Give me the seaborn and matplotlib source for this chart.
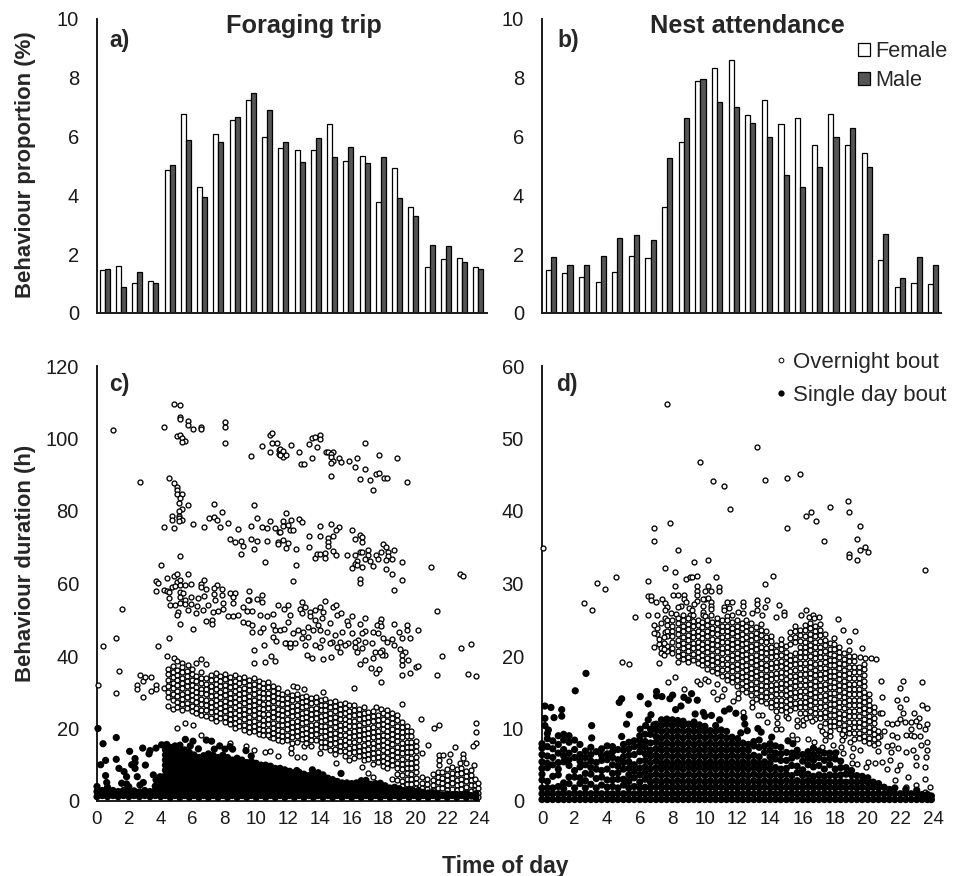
import matplotlib
matplotlib.use('Agg')
import matplotlib.pyplot as plt
from matplotlib.lines import Line2D
from matplotlib.patches import Patch
import numpy as np
import pandas as pd
import seaborn as sns

hours = list(range(24))

trip_female = [1.47, 1.6, 1.03, 1.08, 4.88, 6.78, 4.3, 6.1, 6.58, 7.25, 5.97, 5.6, 5.55, 5.55, 6.43, 5.17, 5.35, 3.78, 4.93, 3.6, 1.55, 1.85, 1.87, 1.55]
trip_male = [1.5, 0.88, 1.4, 1.02, 5.05, 5.88, 3.95, 5.83, 6.65, 7.47, 6.9, 5.83, 5.12, 5.95, 5.3, 5.65, 5.1, 5.3, 3.9, 3.3, 2.3, 2.27, 1.75, 1.5]
nest_female = [1.45, 1.37, 1.23, 1.07, 1.4, 1.93, 1.88, 3.6, 5.82, 7.9, 8.32, 8.6, 6.72, 7.23, 6.43, 6.62, 5.73, 6.77, 5.73, 5.43, 1.8, 0.88, 1.03, 0.98]
nest_male = [1.9, 1.63, 1.63, 1.95, 2.55, 2.65, 2.5, 5.28, 6.63, 7.95, 7.18, 7.0, 6.47, 6.0, 4.68, 4.27, 4.95, 5.97, 6.3, 4.98, 2.7, 1.2, 1.9, 1.63]

# overnight trips, single points read one by one (hour, duration)
trip_night_points = [
    (1.03,102.3),(4.86,109.6),(5.21,109.2),(5.21,105.9),(5.21,105.3),(5.72,104.9),(5.72,103.8),(6.03,102.7),(6.53,103.2),(6.53,102.6),(4.21,103.1),
    (5.03,100.7),(5.21,101),(5.36,100.2),(5.55,99.4),(5.34,98.9),(8.02,104.6),(8.02,103.2),(8.02,98.7),(9.69,95.2),(10.34,97.9),(10.85,100.9),(11.01,101.6),
    (11.01,98.8),(11.33,98.7),(10.85,96.4),(11.43,96.8),(11.43,95.7),(12.19,98.2),(11.5,97.1),(11.7,96.6),(11.7,95),(11.5,95.4),(11.85,95.4),(12.69,96.2),
    (12.83,93.1),(13,92.9),(13.34,98.6),(13.53,100.1),(13.69,100.3),(14.01,101),(14.01,99.8),(13.84,97.6),(13.53,94.5),(14.36,96.4),(14.53,96.2),(14.85,96.3),
    (14.68,95.7),(14.68,95),(14.85,93.8),(14.68,93.3),(15.18,94.7),(15.35,93.6),(14.68,89.7),(15.83,93.7),(16.35,94.7),(16.18,92.1),(16.5,88.9),(16.83,98.8),
    (16.83,91.6),(17.17,88.6),(17.34,85.8),(17.5,90.2),(17.69,90.5),(17.69,95.4),(18,89),(18.2,89),(18.82,94.7),(19.49,88),
    (4.52,89.2),(2.7,88),(4.86,87.8),(5.03,86.6),(5.03,85.8),(5.03,84.7),(5.36,84.7),(5.21,83.7),(5.17,82.1),(5.7,81.7),(5.36,80.6),(5.17,80),(5.17,78.7),
    (4.71,78.5),(4.71,77.4),(5.17,78),(5.36,77.4),(5.17,77.2),(4.21,75.7),(4.86,75.3),(6.03,76.5),(6.7,75.7),(7.04,78),(7.37,78.4),(7.54,77.4),(7.71,75.7),
    (7.87,79.6),(7.37,82),(8.21,76.6),(8.86,75),(8.38,72.2),(8.69,71.4),(9.05,71.8),(9.19,70.3),(9.02,68.2),(9.69,72.2),(10.03,71.8),(9.86,69.4),(10.68,71.7),
    (11.35,71.5),(11.35,70.9),(10.53,65.8),(11.43,74.1),(9.69,76),(10.03,78),(10.34,75.7),(10.68,75.2),(10.85,77.2),(11.18,75.2),(9.86,81.7),
    (11.85,79.4),(11.7,77.2),(12.19,77.4),(12.69,77.7),(12.86,76.9),(11.7,75.9),(12.02,76.2),(11.5,74.3),(12.12,74.8),(12.33,74.8),(11.7,72),(12.02,71.1),
    (11.85,69.7),(12.52,69.4),(12.52,65),(12.33,60.7),(13.34,73.2),(14.01,76),(14.01,73.1),(14.68,76.5),(15.18,75.7),(15.01,74.7),(14.84,73.1),(14.51,72.6),
    (14.51,71.5),(14.51,70.4),(13.34,70.2),(13.67,67.1),(13.84,68.1),(14.01,68.1),(14.34,68.5),(14.34,67),(14.84,68.9),(15.01,68),(15.68,67.9),(16.02,74.7),
    (16.19,72.3),(16.5,73.5),(16.67,72.8),(16.67,71.4),(16.19,67.8),(16.5,68.6),(16.67,68.6),(17,69.2),(17,67.9),(16.83,66.7),(17.17,66.3),(16.35,66.1),
    (16.19,65.3),(16.35,65.1),(16.02,64.2),(16.67,64.5),(17.34,64.8),(17.51,67.9),(17.84,68.6),(17.67,66.7),(17.98,71),(18.15,70.2),(18.31,68.7),(18.68,69.2),
    (18.31,67.7),(18.15,66.5),(18.51,66.7),(19.16,66),(18.15,64),(18.51,62.5),(19.16,61),(18.68,58.3),(16.5,61.2),(16.5,60.1),(21,64.5),(22.82,62.5),(23,62.1),
    (4.04,65),(5.19,67.7),(3.71,60.7),(3.86,60.1),(4.38,61.6),(4.86,62.2),(5.05,62.5),(5.72,62.7),(3.71,58),(4.21,58.2),(4.38,58),(4.54,57.7),(4.71,59.1),
    (5.05,60.5),(5.21,61.1),(5.21,59.6),(4.9,59.3),(5.55,59.6),(5.88,59.8),(5.21,57.7),(5.38,57.3),(4.54,55.9),(5.21,56.4),(5.88,56.4),(6.7,61),(6.53,60),
    (6.55,58.9),(6.87,58.6),(7.54,59.6),(7.37,58.7),(7.87,58.6),(8.38,57.5),(8.69,57.3),(9.53,58),(6.7,56.6),(7.37,57),(7.87,56.8),(8.52,56.2),(10.34,56.8),
    (10.03,55.6),(9.55,55.4),(6.37,55.9),(5.53,55.4),
    (1.55,53),(0.4,42.7),(1.21,45),(3.85,42.7),(4.52,44.9),(6.03,47.4),(5.19,48.7),(6.87,49.7),(7.2,49.9),(7.2,48.7),
    (4.59,54.1),(4.9,54.1),(5.21,54.5),(5.53,54.3),(5.88,54.3),(6.26,53.8),(6.68,52.7),(6.99,54.1),(7.31,52.2),(7.62,52.5),(7.94,53.1),(8.25,50.9),(8.56,50.9),
    (8.88,51.3),(9.19,53.6),(9.4,52.5),(9.72,52.5),(10.24,51.3),(10.66,50.9),(11.03,51.6),(11.39,54.1),(11.75,53.1),(12.02,54.1),(5.11,52.2),(5,51.3),(5.74,52.7),
    (6.2,51.8),(7.94,54.5),(8.56,54.7),(7.41,55.4),(9.51,55.4),(10.34,55),(9.19,49.5),(9.51,49),(9.72,48.6),(9.72,46.5),(10.24,46.5),(10.41,47.6),(11.08,48.6),
    (11.18,47.2),(11.5,47.2),(11.75,47.4),(11.08,45.3),(11.24,44.2),(11.87,43.5),(12.12,42.6),(10.51,42.9),(9.86,41.7),(10.91,40),(10.55,38.4),(11.18,38.6),(9.86,38),
    (21.33,52.5),(22.84,42.3),(23.49,43.2),(21.65,40.1),(21.33,34.8),(23.33,35),(23.81,34.5),(17.84,32.9),
    (12.86,55),(12.75,53.1),(13.07,53.4),(12.86,52),(13.38,52.2),(13.69,52.7),(14.01,53.6),(14.22,52.2),(14.32,55.2),(14.85,53.4),(14.99,54.1),(15.05,51.3),
    (15.33,51.8),(16,51.1),(16.83,50.4),(15.68,49.7),(15.79,48.6),(16.52,48.8),(17.84,50.1),(17.78,49.2),(17.57,48.6),(17.84,48.3),(17.36,46.7),(16.83,47),
    (16.67,46.3),(18.68,48.8),(18.99,46.7),(19.49,48.6),(19.49,47.2),(19.18,45.1),(19.66,44.9),(20.17,47.2),(17.67,46.3),(17.99,45.1),(18.2,44),(18.51,44.6),
    (18.68,43),(19.03,41.9),(19.35,41.2),(19.18,40.3),(19.14,38.9),(19.14,37.5),(19.51,38.9),(20.02,37.1),(20.18,37.3),(19.66,35.4),(19.18,34.8),(17.19,36.6),
    (17.5,35.4),(17.69,36.3),(13.69,49.9),(14.11,50.4),(13.38,50.9),(12.12,51.3),(12.02,49.5),(13.9,48.6),(13.28,48.1),(12.65,47.2),(12.33,46.3),(12.96,46.7),
    (13.59,47.2),(14.43,46.7),(14.95,45.8),(15.37,46.7),(16,46.3),(16.42,44.4),(16.83,44),(17.25,43.5),(17.46,41.2),(16.62,42.1),(16.21,42.6),(15.79,43.5),
    (15.26,44),(14.74,44),(14.11,44.4),(13.69,43),(13.28,45.3),(12.86,44.9),(12.44,43.5),(11.81,43.5),(12.12,43.5),(13.07,43),(14.01,42.6),(14.64,43.5),
    (15.05,42.6),(15.58,43),(15.26,41.2),(16.31,41.2),(16.83,38.9),(17.36,39.4),(16.52,37.9),(17.88,41.7),(18.09,40.3),(17.88,40.3),(13.17,40.3),(13.53,39.4),
    (14.18,39.2),(14.68,39.6),(14.64,49.2),(14.01,47.2),(16.21,44),(17.78,41.2),
    (2.53,32),(2.53,30.8),(2.7,34.8),(2.87,33),(3.04,34.3),(3.37,34.3),(2.87,28.6),(3.37,30.4),(3.71,32),(3.71,30.8),(4.21,31.1),(4.54,32.5),
    (0.06,32.1),(1.38,35.9),(1.21,29.9),(5.05,20.1),(5.55,21.4),(6.03,21),(6.55,18.1),(8.35,16.1),(9.36,15.2),(9.86,14.1),(10.53,13.6),(10.87,13.8),(11.37,12.5),
    (10.24,18.9),(10.53,18.7),(10.87,17.7),(12.19,14.5),(12.19,13.3),(12.55,12.2),(13.02,12.2),(13.02,15.3),(14.01,13.3),(14.99,10.4),(15.83,11.3),(16.67,9.5),
    (17.04,7.6),(17.36,6.7),(20.81,15.4),(20.33,22.5),(21.17,20.1),(21.48,21),(19.16,26.8),(16.16,31.1),(14.18,30.2),(12.33,31.7),(12.55,31.4),(13.01,30.8),
    (17.5,26),(17.84,25.5),(23.81,21.6),(23.81,18.9),(23.81,15.9),(23.65,15.2),(22.49,15),(21.5,12.6),(21.75,12.6),(22.17,12.9),(21.48,11.3),(21.48,9.9),
    (22.97,13),(22.97,11.8),(22.8,10.6),(23.18,10.6),(23.66,9.9),(22.13,11),(4.38,40),(4.86,39.4),(5.05,38.6),(5.36,38),(5.7,37.6),(6.2,38),(6.55,39.2),(6.87,37.9),
]

# overnight trips, crowded band read column by column (hour, durations)
trip_night_columns = [
    (4.45,[36.4,34.9,33.4,31.8,30,28.7,26.3]),(4.75,[37.2,35.5,34.1,32.5,31.2,29.6,27.9,25.4]),(5.05,[36.1,34.7,33.3,31.9,30.4,28.9,27.3,25.9]),
    (5.35,[37,35.6,34,32.6,31.1,29.6,28.2,26.7,25.2]),(5.65,[35.9,34.4,33,31.6,30.1,28.6,27.1,25.6]),(5.95,[36.5,35,33.5,32.1,30.6,29.2,27.8,26.3,24.8]),
    (6.25,[34.4,33,31.5,30,28.6,27.2,25.7,24.2]),(6.55,[35.6,34,32.5,31,29.7,28.2,26.8,25.2,23.8]),(6.85,[33.8,32.4,30.9,29.5,28,26.5,25,23.5]),
    (7.15,[34.8,33.3,31.8,30.3,28.9,27.4,26,24.5,23]),(7.45,[35.2,33.7,32.2,30.8,29.3,27.9,26.4,24.9,23.4,22]),(7.75,[34.6,33,31.6,30.1,28.6,27.1,25.7,24.2,22.8]),
    (8.05,[35.1,33.6,32.1,30.6,29.2,27.7,26.2,24.8,23.3,21.9]),(8.35,[34.3,32.9,31.4,29.9,28.5,27,25.5,24,22.6,21.2]),(8.65,[34.7,33.2,31.8,30.3,28.8,27.4,25.9,24.4,23,21.5,20.1]),
    (8.95,[33.9,32.5,31,29.5,28.1,26.6,25.2,23.7,22.2,20.8]),(9.25,[34.2,32.8,31.3,29.9,28.4,26.9,25.5,24,22.5,21.1,19.6]),(9.55,[33.5,32,30.6,29.1,27.7,26.2,24.7,23.3,21.8,20.4,19]),
    (9.85,[33.9,32.4,31,29.5,28,26.6,25.1,23.6,22.2,20.7,19.3]),(10.15,[33,31.6,30.1,28.6,27.2,25.7,24.3,22.8,21.3,19.9,18.4]),(10.45,[32.6,31.2,29.7,28.3,26.8,25.3,23.9,22.4,21,19.5,18.1]),
    (10.75,[32.9,31.4,29.9,28.5,27,25.6,24.1,22.6,21.2,19.7,18.3]),(11.05,[31.8,30.4,28.9,27.5,26,24.5,23.1,21.6,20.2,18.7,17.3]),(11.35,[31.2,29.8,28.3,26.9,25.4,24,22.5,21,19.6,18.1,16.7]),
    (11.65,[29.6,28.2,26.7,25.2,23.8,22.3,20.9,19.4,18,16.5]),(11.95,[30,28.5,27.1,25.6,24.2,22.7,21.2,19.8,18.3,16.9]),(12.25,[29.2,27.8,26.3,24.9,23.4,21.9,20.5,19,17.6,16.1]),
    (12.55,[29.5,28.1,26.6,25.1,23.7,22.2,20.8,19.3,17.8,16.4]),(12.85,[28.7,27.3,25.8,24.3,22.9,21.4,20,18.5,17.1]),(13.15,[29,27.5,26.1,24.6,23.2,21.7,20.2,18.8,17.3,15.9]),
    (13.45,[28.3,26.9,25.4,23.9,22.5,21,19.6,18.1,16.7,15.2]),(13.75,[28.6,27.2,25.7,24.2,22.8,21.3,19.9,18.4,16.9]),(14.05,[27.9,26.5,25,23.5,22.1,20.6,19.2,17.7,16.2,14.8]),
    (14.35,[28.1,26.6,25.2,23.7,22.3,20.8,19.3,17.9,16.4,15]),(14.65,[27.3,25.9,24.4,23,21.5,20,18.6,17.1,15.7,14.2]),(14.95,[27.6,26.1,24.7,23.2,21.7,20.3,18.8,17.4,15.9,14.4,13]),
    (15.25,[26.8,25.4,23.9,22.5,21,19.5,18.1,16.6,15.2,13.7]),(15.55,[27.1,25.6,24.2,22.7,21.2,19.8,18.3,16.9,15.4,13.9,12.5]),(15.85,[26.4,24.9,23.5,22,20.6,19.1,17.6,16.2,14.7,13.3]),
    (16.15,[26.6,25.2,23.7,22.2,20.8,19.3,17.9,16.4,14.9,13.5,12]),(16.45,[25.4,24,22.5,21.1,19.6,18.1,16.7,15.2,13.8,12.3]),(16.75,[25.8,24.3,22.8,21.4,19.9,18.5,17,15.5,14.1,12.6,11.2]),
    (17.05,[24.6,23.2,21.7,20.2,18.8,17.3,15.9,14.4,12.9,11.5]),(17.35,[24.9,23.4,22,20.5,19.1,17.6,16.1,14.7,13.2,11.8,10.3]),(17.65,[23.8,22.4,20.9,19.4,18,16.5,15.1,13.6,12.1,10.7]),
    (17.95,[24.2,22.7,21.3,19.8,18.3,16.9,15.4,14,12.5,11,9.6]),(18.25,[25.1,23.6,22.1,20.7,19.2,17.8,16.3,14.8,13.4,11.9,10.5,9]),(18.55,[24.4,22.9,21.5,20,18.5,17.1,15.6,14.2,12.7,11.2,9.8,6.2]),
    (18.85,[23.8,22.3,20.8,19.4,17.9,16.5,15,13.5,12.1,10.6,9.2,7.5,5.9]),(19.15,[21.9,20.5,19,17.6,16.1,14.6,13.2,11.7,10.3,8.8,7.3,5.6,4.2]),(19.45,[20.8,19.4,17.9,16.4,15,13.5,12.1,10.6,9.1,7.7,6.2,4.8]),
    (19.75,[19.2,17.8,16.3,14.8,13.4,11.9,10.5,9,7.5,6.1,4.6,3.2]),(20.05,[16.6,15.2,13.7,12.2,10.8,9.3,7.9,6.4,4.9,3.5]),(20.4,[13.2,6.5,5,3.6,2.4]),(20.75,[6.2,4.8,3.4,2.3]),
    (21.1,[7.4,5.9,4.5,3,1.8]),(21.4,[8.1,6.6,5.2,3.7,2.3]),(21.7,[7.9,6.4,4.9,3.5,2]),(22,[8.7,7.2,5.8,4.3,2.9,1.5]),(22.3,[9.3,7.8,6.3,4.9,3.4,2]),
    (22.6,[8.8,7.4,5.9,4.4,3,1.5]),(22.9,[9,7.6,6.1,4.7,3.2,1.8]),(23.2,[8.4,6.9,5.4,4,2.5,1.2]),(23.5,[8.6,7.2,5.7,4.3,2.8,1.4]),(23.75,[6,4.5,3.1,1.7]),(23.95,[5,3.6,2.2,1.2]),
]

# single day trips, points standing apart (hour, duration)
trip_day_points = [
    (0.06,20),(0.38,15.8),(1.21,17.5),(2.05,13.7),(2.87,14.6),(3.33,13.9),(3.27,13),(3.71,14.6),(4.06,15.5),(4.38,15.6),(0.23,10),(0.54,11.2),(1.21,11.5),(2.39,11.7),
    (2.39,10.6),(2.18,10),(2.39,9),(3.04,9.9),(1.38,9),(1.7,8.1),(1.86,6.7),(2.53,6.7),(0.54,7),(0.61,5.1),(1.55,4.9),(1.86,4.7),(2.91,5.1),(2.7,4.4),(3.54,7.2),
    (3.71,5.8),(3.96,6.7),(5.55,17),(6.03,16.5),(5.21,15.4),(5.86,15.2),(6.37,14.4),(6.87,16.8),(7.2,16.5),(7.37,14.3),(7.71,15.2),(8.04,14.3),(8.35,15),(8.52,14.3),
    (9.36,13.9),(9.69,12.4),(13.53,8.6),(15.33,7.6),(12.55,8.4),
]

# single day trips, solid mass read column by column (hour, durations)
trip_day_columns = [
    (0,[1.2,2.6,4]),(0.33,[1.5,2.9]),(0.66,[1.2,2.6,3.8]),(1,[1.5,2.9]),(1.33,[1.2,2.6]),(1.66,[1.5,2.9]),(2,[1.2,2.6,3.9]),(2.33,[1.5,2.8]),(2.66,[1.2,2.5]),
    (3,[1.5,2.9]),(3.33,[1.2,2.6]),(3.66,[1.5,2.9,4.1]),(4,[1.2,2.6,4,5.2]),
    (4.3,[1.5,2.9,4.3,5.7,7.1,8.5,9.9,11.3,12.7,14.1]),(4.6,[1,2.2,3.6,5,6.4,7.8,9.2,10.6,12,13.4,14.8]),(4.9,[1.5,2.9,4.3,5.7,7.1,8.5,9.9,11.3,12.7,14.1,15.2]),
    (5.2,[1,2.2,3.6,5,6.4,7.8,9.2,10.6,12,13.4,14.6]),(5.5,[1.5,2.9,4.3,5.7,7.1,8.5,9.9,11.3,12.7,14.1]),(5.8,[1,2.2,3.6,5,6.4,7.8,9.2,10.6,12,13.4]),
    (6.1,[1.5,2.9,4.3,5.7,7.1,8.5,9.9,11.3,12.7]),(6.4,[1,2.2,3.6,5,6.4,7.8,9.2,10.6,12]),(6.7,[1.5,2.9,4.3,5.7,7.1,8.5,9.9,11.3,12.5]),(7,[1,2.2,3.6,5,6.4,7.8,9.2,10.6,12,13]),
    (7.3,[1.5,2.9,4.3,5.7,7.1,8.5,9.9,11.3,12.6]),(7.6,[1,2.2,3.6,5,6.4,7.8,9.2,10.6,12]),(7.9,[1.5,2.9,4.3,5.7,7.1,8.5,9.9,11.3,12.6]),(8.2,[1,2.2,3.6,5,6.4,7.8,9.2,10.6,12]),
    (8.5,[1.5,2.9,4.3,5.7,7.1,8.5,9.9,11.3]),(8.8,[1,2.2,3.6,5,6.4,7.8,9.2,10.6,11.8]),(9.1,[1.5,2.9,4.3,5.7,7.1,8.5,9.9,11.3]),(9.4,[1,2.2,3.6,5,6.4,7.8,9.2,10.6]),
    (9.7,[1.5,2.9,4.3,5.7,7.1,8.5,9.9,10.9]),(10,[1,2.2,3.6,5,6.4,7.8,9.2,10.4]),(10.3,[1.5,2.9,4.3,5.7,7.1,8.5,9.9]),(10.6,[1,2.2,3.6,5,6.4,7.8,9.2,9.9]),
    (10.9,[1.5,2.9,4.3,5.7,7.1,8.5,9.6]),(11.2,[1,2.2,3.6,5,6.4,7.8,9]),(11.5,[1.5,2.9,4.3,5.7,7.1,8.5,9]),(11.8,[1,2.2,3.6,5,6.4,7.8,8.6]),(12.1,[1.5,2.9,4.3,5.7,7.1,8.2]),
    (12.4,[1,2.2,3.6,5,6.4,7.8]),(12.7,[1.5,2.9,4.3,5.7,7.1,7.9]),(13,[1,2.2,3.6,5,6.4,7.4]),(13.3,[1.5,2.9,4.3,5.7,7]),(13.6,[1,2.2,3.6,5,6.4,7.4]),(13.9,[1.5,2.9,4.3,5.7,7.1,7.8]),
    (14.2,[1,2.2,3.6,5,6.4,7.2]),(14.5,[1.5,2.9,4.3,5.7,6.3]),(14.8,[1,2.2,3.6,5,5.9]),(15.1,[1.5,2.9,4.3,5.4]),(15.4,[1,2.2,3.6,5]),(15.7,[1.5,2.9,4.3,5]),(16,[1,2.2,3.6,4.8]),
    (16.3,[1.5,2.9,4.1,5]),(16.6,[1,2.2,3.6,5,5.6]),(16.9,[1.5,2.9,4.3,5.7]),(17.2,[1,2.2,3.6,4.6]),(17.5,[1.5,2.9,3.8,4.8]),(17.8,[1,2.2,3.6,4.9]),(18.1,[1.5,2.9,4.2]),
    (18.4,[1,2.2,3.6]),(18.7,[1.5,2.9,3.8]),(19,[1,2.2,3.4]),(19.3,[1.5,2.9]),(19.6,[1,2.2,3.1]),(19.9,[1.5,2.7]),(20.2,[1,2.2,2.9]),(20.5,[1.5,2.4]),(20.8,[1,2.2]),
    (21.1,[1.5,2.3]),(21.4,[1,2]),(21.7,[1.5]),(22,[1,1.9]),(22.3,[1.5]),(22.6,[1,1.8]),(22.9,[1.5]),(23.2,[1,1.9]),(23.5,[1.5]),(23.8,[1,2]),
]

nest_night_points = [
    (7.69,54.8),(9.69,46.8),(10.51,44.1),(11.19,43.4),(11.51,40.3),(7.87,38.3),(6.85,37.6),(6.87,35.8),(0.04,34.9),(8.34,34.6),(10.18,33.2),(9.35,32.9),(7.53,32.2),
    (8.18,31.6),(4.54,30.9),(3.37,30.1),(3.89,29.2),(6.52,30.3),(8.85,30.6),(9.08,30.9),(9.22,30.9),(9.53,31.1),(10.7,30.9),(8.18,29.6),(9.53,29.6),(10.18,29.7),
    (10.86,29.5),(10.86,28.9),(2.56,27.3),(3.05,26.4),(5.71,25.4),(6.52,25.7),(7.03,25.7),(6.52,28.3),(6.69,28.3),(6.69,27.7),(7.01,27.4),(7.36,27.9),(7.53,27.3),
    (7.69,26.8),(7.53,26.4),(8.02,28.4),(8.36,28.4),(8.69,28.4),(8.69,27.9),(8.85,27.4),(8.53,26.9),(8.36,26.7),(9.53,28.9),(9.53,28.4),(10,28.9),(10.35,28.9),
    (10,27.9),(10.18,28),(9.88,27.9),(9.53,27.6),(9.35,27.2),(10.35,27.5),(10.35,26.9),(10.35,26.5),(9.86,26.9),(9.02,26.6),(9.22,26.3),(9.86,26.1),(11.35,27.4),
    (11.68,27.4),(11.19,26.8),(11.49,26.6),(11.19,26.3),(12.02,26.1),(11.64,25.6),(11.33,25.5),(7.89,25.9),(8.2,25.8),(8.67,25.6),(9.08,25.6),(9.28,25.7),(9.86,25.7),
    (10,25.5),(10.35,25.6),(7.53,25.3),(13.19,48.8),(13.68,44.3),(15.01,44.5),(15.83,45.1),(18.81,41.4),(17.65,40.6),(16.5,39.9),(16.18,39.3),(16.83,38.6),(18.84,39.8),
    (19.51,37.9),(15.01,37.6),(17.34,35.9),(19.33,36.1),(19.82,35.1),(19.49,34.6),(20,34.3),(18.84,34.1),(18.84,33.6),(19.35,33.2),(23.5,31.8),(14.17,31.1),(13.68,29.9),
    (12.35,27.4),(12.35,26.9),(13.21,27.7),(13.21,27.2),(13.84,27.7),(13.68,26.8),(14.52,27),(12.86,26),(12.35,25.9),(13.21,26.3),(13.52,25.6),(14.35,25.4),(14.85,26.1),
    (14.85,25.6),(15.87,25.7),(16.18,26.3),(16.37,25.4),(16.65,25.6),(17,25.4),(18.16,25.1),(16.69,25.3),
    (22.17,16.6),(23.33,16.4),(22,15.6),(20.82,16.6),(20.84,14.3),(21.82,13.9),(22.33,14.1),(23.33,13.2),(23.66,12.8),(21.96,12.9),(22.17,12.1),(22.82,12.1),(23.15,11.4),
    (22,11.3),(22.31,10.9),(22.68,10.9),(22.98,11.1),(23.66,10.6),(23.15,10.3),(23.5,10),(22.68,10),(22.68,9.1),(22.37,9.1),(22.82,8.9),(23.19,9),(23.66,8.2),(20.74,12.1),
    (20.84,12.2),(20.53,19.6),(20.17,19.7),(19.82,19.7),(19.51,19.9),(19.67,21.1),(19.2,23.4),(18.84,22.1),(18.49,23.6),(21.19,10.7),(21.51,10.6),(21.8,10.8),(20.98,9.6),
    (21.49,9.1),(21.8,8.8),(20.74,8.9),(21.15,7.6),(21.51,7.7),(21.86,7.3),(21.45,6.8),(22.37,6.7),(22.78,7),(23.29,7.7),(23.66,7),(23.56,6.1),(22.98,6.1),(20.84,5.4),
    (21.35,5.7),(21.96,5),(21.76,4.3),(21.15,4.4),(22.98,5),(23.5,4.7),(22.47,3.3),(21.66,2.9),(23.5,3),(22.37,2),(22.98,2.2),(23.81,2),(23.5,1.3),(20.43,5.2),(20.02,5.4),(19.88,4.7),
    (13.48,11.9),(13.27,11.9),(15,11.7),(12.35,12.3),(13.84,10.9),(14.35,9.9),(14.67,9.9),(15.32,9.1),(15.66,8.6),(16.34,8.6),(16.69,8.1),(17.16,7.5),(17.87,7.7),(18.38,7.5),
    (18.89,8.2),(19.1,7.3),(19.51,7.1),(19,6.2),(19,5.2),(19.31,5.1),(18.49,6.6),(18.04,6.7),(15.66,11.2),(16.03,11.2),(16.18,11.4),(15.66,10.3),(16.03,10.5),(17.05,10.3),(17.16,9.6),
    (17.36,9.3),(17.36,8.4),(4.89,19.2),(5.36,18.9),(7.2,19.1),(7.71,16.4),(8.18,17.1),(9.53,16.6),(9.69,16.1),(10,16.8),(10.2,16.5),(10.72,16.2),(8.69,15.4),(10.51,15),(10.72,14.1),
    (11.02,14.5),(11.19,15.4),(11.7,13.8),(6.87,21.2),(7.2,21.7),(7.03,23.8),(7.03,23.1),(7.2,22.4),(7.53,23.3),
]

nest_night_columns = [
    (7.7,[25,24.3,23.5,22.8,21.4,20.7]),(8,[25,24.2,23.4,22.7,21.9,21.1,20.4]),(8.35,[25.2,24.5,23.7,23,22.2,21.5,20.7,20,19.2]),(8.65,[24.9,24.1,23.4,22.6,21.8,21.1,20.3,19.6]),
    (8.95,[25.2,24.4,23.7,22.9,22.2,21.4,20.7,19.9,19.2]),(9.25,[24.8,24.1,23.3,22.6,21.8,21.1,20.3,19.5]),(9.55,[25,24.3,23.5,22.8,22,21.3,20.5,19.8,19]),(9.85,[24.7,24,23.2,22.5,21.7,21,20.2,19.4,18.7]),
    (10.15,[25,24.3,23.5,22.7,22,21.2,20.5,19.7,19,18.2]),(10.45,[24.7,23.9,23.2,22.4,21.7,20.9,20.2,19.4,18.7,17.9]),(10.75,[25.2,24.5,23.7,23,22.2,21.5,20.7,19.9,19.2,18.4,17.7]),
    (11.05,[24.9,24.1,23.4,22.6,21.9,21.1,20.4,19.6,18.9,18.1,17.3]),(11.35,[25,24.2,23.5,22.7,22,21.2,20.5,19.7,18.9,18.2,17.4,16.7]),(11.65,[24.7,23.9,23.2,22.4,21.7,20.9,20.1,19.4,18.6,17.9,17.1,16.4]),
    (11.95,[25,24.2,23.5,22.7,22,21.2,20.4,19.7,18.9,18.2,17.4,16.7,15.9]),(12.25,[24.6,23.9,23.1,22.4,21.6,20.8,20.1,19.3,18.6,17.8,17.1,16.3,15.5]),(12.55,[24.9,24.1,23.4,22.6,21.8,21.1,20.3,19.6,18.8,18.1,17.3,16.5,15.8,15]),
    (12.85,[24.5,23.7,22.9,22.2,21.4,20.7,19.9,19.2,18.4,17.6,16.9,16.1,15.4,14.6]),(13.15,[24,23.2,22.5,21.7,21,20.2,19.4,18.7,17.9,17.2,16.4,15.6,14.9,14.1]),(13.45,[24.4,23.6,22.9,22.1,21.3,20.6,19.8,19.1,18.3,17.5,16.8,16,15.3,14.5,13.8]),
    (13.75,[23.4,22.6,21.9,21.1,20.4,19.6,18.8,18.1,17.3,16.6,15.8,15,14.3,13.5]),(14.05,[22.8,22.1,21.3,20.6,19.8,19,18.3,17.5,16.8,16,15.3,14.5,13.7,13]),(14.35,[21.5,20.7,20,19.2,18.5,17.7,16.9,16.2,15.4,14.7,13.9,13.2,12.4]),
    (14.65,[22.4,21.6,20.9,20.1,19.3,18.6,17.8,17.1,16.3,15.6,14.8,14,13.3,12.5]),(14.95,[21.4,20.6,19.9,19.1,18.4,17.6,16.8,16.1,15.3,14.6,13.8,13,12.3]),(15.25,[23.3,22.5,21.7,20.2,19.4,18.7,17.9,17.2,16.4,15.6,14.9,14.1,13.4,12.6]),
    (15.55,[24.2,23.4,22.6,21.9,20.4,19.6,18.9,18.1,17.3,16.6,15.8,15.1,14.3,13.5,12.8]),(15.85,[23.6,22.9,22.1,21.3,20.6,19.8,19,18.3,17.5,16.8,16,15.2,14.5,13.7,13,12.2]),(16.15,[24.3,23.6,22.8,22,21.3,20.5,19.8,19,18.2,17.5,16.7,16,15.2,14.4,13.7,12.9,12.2]),
    (16.45,[24.6,23.8,23,22.3,21.5,20.8,20,19.2,18.5,17.7,17,16.2,15.4,14.7,13.9,13.2,12.4,11.6]),(16.75,[24.2,23.5,22.7,21.9,21.2,20.4,19.7,18.9,18.1,17.4,16.6,15.9,15.1,14.4,13.6,12.8,12.1,11.3]),
    (17.05,[24.4,23.6,22.9,22.1,21.3,20.6,19.8,19.1,18.3,17.5,16.8,16,15.3,14.5,13.7,13,12.2,11.5]),(17.35,[23,22.2,21.5,20.7,19.9,19.2,18.4,17.7,16.9,16.1,15.4,14.6,13.9,13.1,12.3,11.6,10.8]),
    (17.65,[21.8,21,20.3,19.5,18.7,18,17.2,16.5,15.7,14.9,14.2,13.4,12.7,11.9,11.1,10.4]),(17.95,[22.5,21.7,21,20.2,19.5,18.7,17.9,17.2,16.4,15.7,14.9,14.1,13.4,12.6,11.9,11.1,10.3]),
    (18.25,[21.3,20.6,19.8,19.1,18.3,17.5,16.8,16,15.3,14.5,13.7,13,12.2,11.5,10.7,10]),(18.55,[20.4,19.6,18.9,18.1,17.4,16.6,15.8,15.1,14.3,13.6,12.8,12,11.3,10.5,9.8,9]),
    (18.85,[20.8,20,19.3,18.5,17.7,17,16.2,15.5,14.7,13.9,13.2,12.4,11.7,10.9,10.1,9.4]),(19.15,[20,19.3,18.5,17.8,17,16.2,15.5,14.7,14,13.2,12.4,11.7,10.9,10.2,9.4,8.6]),
    (19.45,[18.5,17.8,17,16.3,15.5,14.7,14,13.2,12.5,11.7,10.9,10.2,9.4,8.7]),(19.75,[18.9,18.2,17.4,16.6,15.9,15.1,14.4,13.6,12.8,12.1,11.3,10.6,9.8,9,8.3]),
    (20.05,[14.8,14,13.3,12.5,11.7,11,10.2,9.5,8.7,8]),(20.35,[13,12.3,11.5,10.8,10,9.2,8.5,7.7]),(20.65,[9.6,8.8,8,6.9]),
    # thinner left edge of the band
    (6.9,[24.3,23.2]),(7.3,[24.6,21.1,20.4]),(7.5,[22.6,21.8,20.9,20.2]),(12,[14.9,14.2]),(12.9,[13.7,13]),(14.4,[11.6,10.8]),(15.1,[11.5]),(16.6,[11]),(17.7,[9.6,8.9]),(18.4,[9.2,8.4]),
]

nest_day_points = [
    (2.7,17.6),(2.04,15.2),(0.18,13.1),(0.55,12.9),(1.21,12.6),(1.21,11.7),(0.18,11.4),(0.74,11.5),(3.05,10.4),(0.18,10.4),(0.39,9.8),(4.74,13.6),(4.89,14.1),(6.03,14.4),
    (6.52,13.4),(7.03,15.1),(7.03,14.5),(7.36,14.4),(7.85,14.1),(8.02,14.6),(8.71,14.3),(9.18,14.8),(8.98,13.9),(9.53,13.9),(8.2,12.6),(8.53,13.1),(5.36,11.9),(5.19,10.6),
    (6.69,11.9),(6.52,11.2),(6.87,10.5),(6.36,10.4),(6.03,9.9),(4.89,8.9),(3.05,8.7),(9.4,12),(9.9,12.2),(10,11.7),(10.4,11.8),(10.9,11.2),(11.2,12.4),(11.5,12.7),(11.9,12.1),
    (12.4,11.5),(12.45,10.6),(13.25,10),(13.45,9.5),(12.2,9.4),(12.6,9.7),(14.1,8.8),(15.1,8.3),(15.4,7.9),
]

nest_day_columns = [
    (0,[0.2,1,1.8,2.9,3.7,4.5,5.4,6.4,7.3,7.9]),(0.33,[0.2,1,1.8,2.7,4.6,5.2,6.2,7.5,8.6,9.3]),(0.66,[0.2,1,1.8,3.4,5,6,7.2,8.3]),(1,[0.2,1,2,3.6,4.4,5.3,6.6,7.8,9]),
    (1.33,[0.2,1,1.7,2.5,5.4,6.2,7.1,8.4,9.2]),(1.66,[0.2,1,2.4,3.3,4.9,5.7,6.6,8.1,9]),(2,[0.2,1,1.8,3.3,4.2,6,7.1,8.4]),(2.33,[0.2,1,2.4,3.2,4.7,5.5,6.4,7.8]),
    (2.66,[0.2,1,1.8,2.8,3.8,5,6,6.9]),(3,[0.2,1,2.3,3.7,4.6,5.5,6.4,7.4]),(3.33,[0.2,1,1.8,3.1,4.4,5.3,6.8]),(3.66,[0.2,1,2.2,3.3,4.2,5.6,6.3,7.2]),(4,[0.2,1,1.9,2.9,4.4,5.7,6.5,7.6]),
    (4.33,[0.2,1,2,2.9,3.8,5,6,6.8,7.5]),(4.66,[0.2,1,1.8,3,3.9,4.8,5.7,7.1]),(5,[0.2,1,2.2,3,4.4,5.3,6.1,7,7.8]),(5.33,[0.2,1,1.8,2.7,3.6,4.5,5.4,6.3,7.2,8.1]),
    (5.66,[0.2,1,2,3.2,4.1,5,6.4,7.5,8.3]),(6,[0.2,1,1.8,2.6,3.6,4.5,5.5,6.8,7.6,8.4,9]),(6.33,[0.2,1,1.9,3,3.9,4.7,5.6,6.5,7.4,8.2,9.2]),(6.66,[0.2,1,1.8,2.6,3.5,4.4,5.3,6.2,7,8,9.2,9.9]),
    (7,[0.2,1,1.9,2.8,3.7,4.6,5.5,6.3,7.2,8.1,8.9,9.8,10.6]),(7.33,[0.2,1,1.8,2.6,3.5,4.4,5.2,6.1,7,7.8,8.7,9.6,10.4,11.2]),(7.66,[0.2,1,1.9,2.8,3.7,4.6,5.4,6.3,7.1,8,8.9,9.7,10.6,11.3]),
    (8,[0.2,1,1.8,2.6,3.5,4.4,5.2,6.1,7,7.8,8.7,9.6,10.4,11.2]),(8.33,[0.2,1,1.9,2.8,3.7,4.6,5.4,6.3,7.1,8,8.9,9.7,10.6,11.1]),(8.66,[0.2,1,1.8,2.6,3.5,4.4,5.2,6.1,7,7.8,8.7,9.6,10.4,11]),
    (9,[0.2,1,1.9,2.8,3.7,4.6,5.4,6.3,7.1,8,8.9,9.7,10.6]),(9.33,[0.2,1,1.8,2.6,3.5,4.4,5.2,6.1,7,7.8,8.7,9.6,10.4,10.9]),(9.66,[0.2,1,1.9,2.8,3.7,4.6,5.4,6.3,7.1,8,8.9,9.7,10.5]),
    (10,[0.2,1,1.8,2.6,3.5,4.4,5.2,6.1,7,7.8,8.7,9.6,10.3]),(10.33,[0.2,1,1.9,2.8,3.7,4.6,5.4,6.3,7.1,8,8.9,9.7]),(10.66,[0.2,1,1.8,2.6,3.5,4.4,5.2,6.1,7,7.8,8.7,9.6,10.4]),
    (11,[0.2,1,1.9,2.8,3.7,4.6,5.4,6.3,7.1,8,8.9,9.8]),(11.33,[0.2,1,1.8,2.6,3.5,4.4,5.2,6.1,7,7.8,8.7,9.6]),(11.66,[0.2,1,1.9,2.8,3.7,4.6,5.4,6.3,7.1,8,8.8]),
    (12,[0.2,1,1.8,2.6,3.5,4.4,5.2,6.1,7,7.8,8.6]),(12.33,[0.2,1,1.9,2.8,3.7,4.6,5.4,6.3,7.1,8]),(12.66,[0.2,1,1.8,2.6,3.5,4.4,5.2,6.1,7,7.8]),(13,[0.2,1,1.9,2.8,3.7,4.6,5.4,6.3,7.6,8.2]),
    (13.33,[0.2,1,1.8,2.6,3.5,4.4,5.2,6.1,7.4,8.4]),(13.66,[0.2,1,1.9,2.8,3.7,4.6,5.4,6.7,7.6]),(14,[0.2,1,1.8,2.6,3.5,4.4,5.2,6.1,7,7.9]),(14.33,[0.2,1,1.9,2.8,3.7,4.6,5.8,6.6,7.6]),
    (14.66,[0.2,1,1.8,2.6,3.5,4.4,5.6,6.5,7.4]),(15,[0.2,1,1.9,2.8,3.7,4.5,5.6,6.7]),(15.33,[0.2,1,1.8,2.6,3.5,4.9,5.9,6.6]),(15.66,[0.2,1,1.9,2.8,3.9,4.8,6.2,7]),(16,[0.2,1,1.8,2.6,3.5,4.3,5.5,6.4]),
    (16.33,[0.2,1,1.9,2.8,3.7,5,5.9,6.8]),(16.66,[0.2,1,1.8,2.6,3.4,4.7,5.6,6.4,7.3]),(17,[0.2,1,1.9,2.7,3.6,4.9,6,6.9]),(17.33,[0.2,1,1.8,2.6,3.4,4.4,5.6,6.6]),(17.66,[0.2,1,1.9,2.7,3.6,5,5.9,6.6]),
    (18,[0.2,1,1.8,2.6,3.5,4.4,5.8,6.6]),(18.33,[0.2,1,1.9,2.7,3.6,4.6,5.5]),(18.66,[0.2,1,1.8,2.6,3.7,4.6]),(19,[0.2,1,1.9,2.7,3.6,4.2]),(19.33,[0.2,1,1.8,2.6,3.5]),(19.66,[0.2,1,1.9,2.7,3.4]),
    (20,[0.2,1,1.8,2.6,3.2]),(20.33,[0.2,1,1.9,2.6]),(20.66,[0.2,1,1.8,2.4]),(21,[0.2,1,1.9]),(21.33,[0.2,1,1.6]),(21.66,[0.2,1,1.8]),(22,[0.2,1]),(22.33,[0.2,1,1.6]),(22.66,[0.2,1]),
    (23,[0.2,1,1.5]),(23.33,[0.2,0.9]),(23.66,[0.2,0.9]),(23.9,[0.2,0.7]),
]

FIG_W, FIG_H = 961, 876


def axes_from_pixels(fig, left, top, right, bottom):
    return fig.add_axes([left / FIG_W, 1 - bottom / FIG_H, (right - left) / FIG_W, (bottom - top) / FIG_H])


def put_text(fig, x, y, s, **kwargs):
    fig.text(x / FIG_W, 1 - y / FIG_H, s, ha=kwargs.pop('ha', 'center'), va=kwargs.pop('va', 'center'), **kwargs)


def bars_frame(female, male):
    return pd.DataFrame({
        'hour': [str(h) for h in hours] * 2,
        'proportion': female + male,
        'sex': ['Female'] * len(hours) + ['Male'] * len(hours),
    })


def points_frame(points, columns):
    rows = list(points)
    for hour, durations in columns:
        rows += [(hour, d) for d in durations]
    return pd.DataFrame(rows, columns=['hour', 'duration'])


def style_axis(ax):
    sns.despine(ax=ax)
    for side in ['left', 'bottom']:
        ax.spines[side].set_linewidth(1.4)
        ax.spines[side].set_color('#1a1a1a')
    ax.tick_params(axis='y', direction='in', length=5.5, width=1.2, pad=13, labelsize=14.5, colors='#1a1a1a')
    ax.tick_params(axis='x', direction='in', length=3.5, width=1.2, pad=7, labelsize=13.5, colors='#1a1a1a')
    ax.set_xlabel('')
    ax.set_ylabel('')


def draw_bars(ax, female, male, shift):
    sns.barplot(data=bars_frame(female, male), x='hour', y='proportion', hue='sex', ax=ax,
                palette={'Female': 'white', 'Male': '#555555'}, hue_order=['Female', 'Male'],
                width=0.62, gap=0, saturation=1, edgecolor='black', linewidth=0.9, legend=False, errorbar=None)
    ax.set_xlim(-0.5 + shift, 23.5 + shift)
    ax.set_ylim(0, 10)
    ax.set_xticks(np.arange(1.5 + shift, 24, 2))
    ax.set_xticklabels([])
    ax.set_yticks(range(0, 11, 2))
    style_axis(ax)


def draw_scatter(ax, night, day, ymax, ystep):
    sns.scatterplot(data=night, x='hour', y='duration', ax=ax, s=12.5, color='white', edgecolor='black',
                    linewidth=0.95, legend=False, clip_on=False, zorder=3)
    sns.scatterplot(data=day, x='hour', y='duration', ax=ax, s=27, color='black', edgecolor='none',
                    linewidth=0, legend=False, clip_on=False, zorder=4)
    ax.set_xlim(0, 24)
    ax.set_ylim(0, ymax)
    ax.set_xticks(range(0, 25, 2))
    ax.set_yticks(range(0, ymax + 1, ystep))
    style_axis(ax)


def main():
    sns.set_theme(style='white')
    plt.rcParams['font.family'] = ['Liberation Sans', 'DejaVu Sans']

    fig = plt.figure(figsize=(FIG_W / 100, FIG_H / 100), dpi=100)
    ax_a = axes_from_pixels(fig, 97, 19, 487, 313)
    ax_b = axes_from_pixels(fig, 542, 19, 941, 313)
    ax_c = axes_from_pixels(fig, 97, 366, 479, 801)
    ax_d = axes_from_pixels(fig, 542, 366, 933, 801)

    draw_bars(ax_a, trip_female, trip_male, 0.03)
    draw_bars(ax_b, nest_female, nest_male, -0.03)
    draw_scatter(ax_c, points_frame(trip_night_points, trip_night_columns), points_frame(trip_day_points, trip_day_columns), 120, 20)
    draw_scatter(ax_d, points_frame(nest_night_points, nest_night_columns), points_frame(nest_day_points, nest_day_columns), 60, 10)

    sex_handles = [Patch(facecolor='white', edgecolor='black', linewidth=0.9, label='Female'),
                   Patch(facecolor='#555555', edgecolor='black', linewidth=0.9, label='Male')]
    ax_b.legend(handles=sex_handles, frameon=False, fontsize=15.7, loc='upper right', bbox_to_anchor=(1.0175, 0.925),
                handlelength=0.55, handleheight=0.55, handletextpad=0.27, labelspacing=0.37, borderpad=0, borderaxespad=0)

    bout_handles = [Line2D([], [], ls='', marker='o', ms=3.4, mfc='white', mec='black', mew=0.7, label='Overnight bout'),
                    Line2D([], [], ls='', marker='o', ms=4.5, mfc='black', mec='black', mew=0, label='Single day bout')]
    ax_d.legend(handles=bout_handles, frameon=False, fontsize=16, loc='upper right', bbox_to_anchor=(1.035, 1.032),
                handlelength=0.5, handletextpad=0.3, labelspacing=0.53, borderpad=0, borderaxespad=0)

    put_text(fig, 304, 26, 'Foraging trip', fontsize=18.2, fontweight='bold')
    put_text(fig, 747, 26, 'Nest attendance', fontsize=18.2, fontweight='bold')
    put_text(fig, 109, 41, 'a)', fontsize=16.5, fontweight='bold', ha='left')
    put_text(fig, 557, 40, 'b)', fontsize=16.5, fontweight='bold', ha='left')
    put_text(fig, 109, 385, 'c)', fontsize=16.5, fontweight='bold', ha='left')
    put_text(fig, 556, 385, 'd)', fontsize=16.5, fontweight='bold', ha='left')
    put_text(fig, 26, 165, 'Behaviour proportion (%)', fontsize=15.9, fontweight='bold', rotation=90)
    put_text(fig, 26, 563, 'Behaviour duration (h)', fontsize=15.9, fontweight='bold', rotation=90)
    put_text(fig, 505, 866, 'Time of day', fontsize=16.5, fontweight='bold')

    fig.savefig('out.png', dpi=100)


if __name__ == "__main__":
    main()
